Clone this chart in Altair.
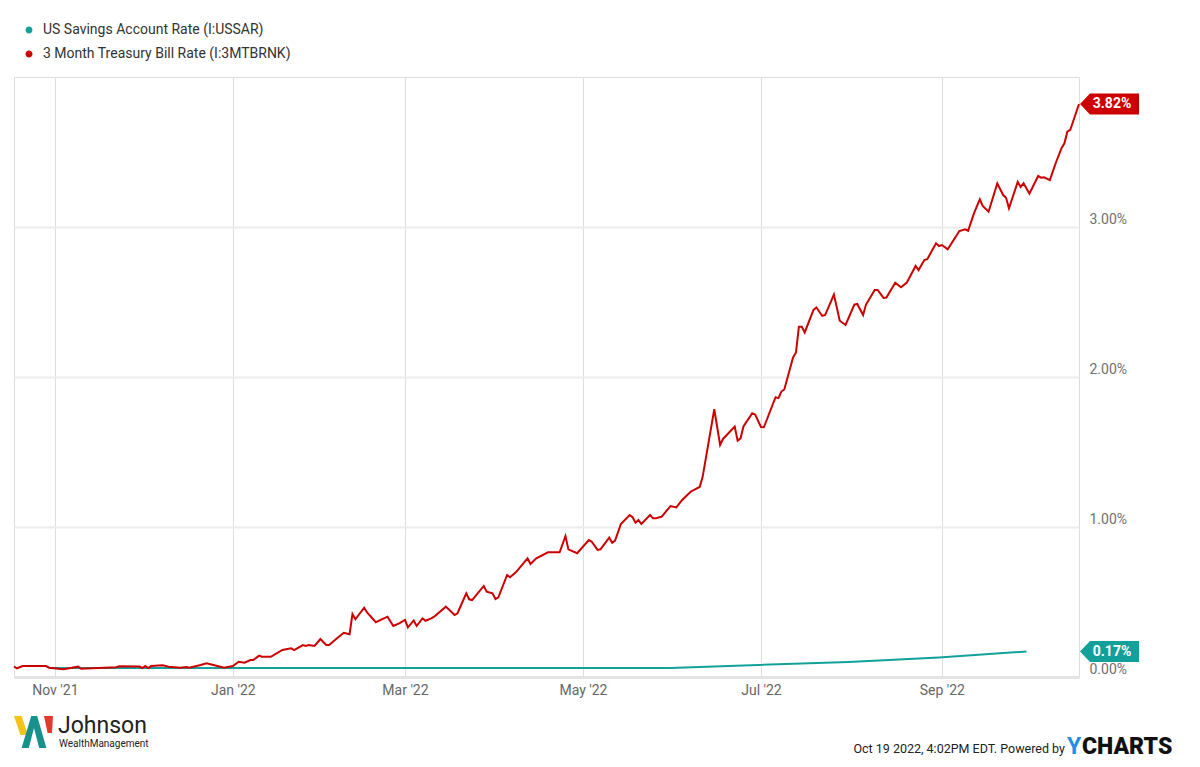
import altair as alt
import pandas as pd

# ---------------- data ----------------
series_names = ["US Savings Account Rate (I:USSAR)", "3 Month Treasury Bill Rate (I:3MTBRNK)"]
series_colors = ["#13a09a", "#cc0000"]

savings_dates = ["2021-10-31", "2021-11-30", "2021-12-31", "2022-01-31", "2022-02-28",
                 "2022-03-31", "2022-04-30", "2022-05-31", "2022-06-30", "2022-07-31",
                 "2022-08-31", "2022-09-30"]
savings_values = [0.06, 0.06, 0.06, 0.06, 0.06, 0.06, 0.06, 0.06, 0.08, 0.10, 0.13, 0.17]

tbill_dates = [
    "2021-10-18", "2021-10-19", "2021-10-21", "2021-10-29", "2021-10-30", "2021-11-04",
    "2021-11-09", "2021-11-10", "2021-11-22", "2021-11-23", "2021-11-30", "2021-12-01",
    "2021-12-02", "2021-12-03", "2021-12-04", "2021-12-08", "2021-12-10", "2021-12-14",
    "2021-12-16", "2021-12-17", "2021-12-21", "2021-12-23", "2021-12-25", "2021-12-29",
    "2022-01-01", "2022-01-03", "2022-01-05", "2022-01-07", "2022-01-08", "2022-01-10",
    "2022-01-11", "2022-01-14", "2022-01-18", "2022-01-21", "2022-01-22", "2022-01-25",
    "2022-01-26", "2022-01-27", "2022-01-29", "2022-01-31", "2022-02-02", "2022-02-03",
    "2022-02-05", "2022-02-08", "2022-02-10", "2022-02-11", "2022-02-12", "2022-02-15",
    "2022-02-16", "2022-02-19", "2022-02-23", "2022-02-25", "2022-02-27", "2022-03-01",
    "2022-03-02", "2022-03-04", "2022-03-05", "2022-03-07", "2022-03-08", "2022-03-10",
    "2022-03-11", "2022-03-15", "2022-03-18", "2022-03-19", "2022-03-22", "2022-03-23",
    "2022-03-24", "2022-03-28", "2022-03-29", "2022-03-31", "2022-04-01", "2022-04-02",
    "2022-04-05", "2022-04-06", "2022-04-08", "2022-04-12", "2022-04-13", "2022-04-15",
    "2022-04-19", "2022-04-23", "2022-04-25", "2022-04-26", "2022-04-29", "2022-05-03",
    "2022-05-04", "2022-05-06", "2022-05-07", "2022-05-10", "2022-05-11", "2022-05-12",
    "2022-05-14", "2022-05-17", "2022-05-18", "2022-05-19", "2022-05-20", "2022-05-21",
    "2022-05-24", "2022-05-25", "2022-05-26", "2022-05-28", "2022-05-31", "2022-06-02",
    "2022-06-04", "2022-06-07", "2022-06-10", "2022-06-11", "2022-06-15", "2022-06-17",
    "2022-06-18", "2022-06-22", "2022-06-23", "2022-06-24", "2022-06-25", "2022-06-28",
    "2022-06-29", "2022-07-01", "2022-07-02", "2022-07-06", "2022-07-07", "2022-07-08",
    "2022-07-09", "2022-07-12", "2022-07-13", "2022-07-14", "2022-07-15", "2022-07-16",
    "2022-07-19", "2022-07-20", "2022-07-22", "2022-07-23", "2022-07-26", "2022-07-28",
    "2022-07-30", "2022-08-02", "2022-08-03", "2022-08-05", "2022-08-06", "2022-08-09",
    "2022-08-10", "2022-08-12", "2022-08-13", "2022-08-16", "2022-08-18", "2022-08-20",
    "2022-08-23", "2022-08-24", "2022-08-26", "2022-08-27", "2022-08-30", "2022-08-31",
    "2022-09-01", "2022-09-03", "2022-09-07", "2022-09-09", "2022-09-10", "2022-09-12",
    "2022-09-14", "2022-09-15", "2022-09-17", "2022-09-20", "2022-09-22", "2022-09-23",
    "2022-09-24", "2022-09-27", "2022-09-28", "2022-09-29", "2022-10-01", "2022-10-04",
    "2022-10-05", "2022-10-06", "2022-10-08", "2022-10-10", "2022-10-12", "2022-10-13",
    "2022-10-14", "2022-10-15", "2022-10-18",
]
tbill_values = [
    0.070, 0.058, 0.073, 0.073, 0.062, 0.051,
    0.069, 0.055, 0.065, 0.071, 0.070, 0.060,
    0.073, 0.060, 0.073, 0.078, 0.069, 0.062,
    0.067, 0.062, 0.080, 0.091, 0.082, 0.062,
    0.073, 0.102, 0.095, 0.113, 0.113, 0.142,
    0.135, 0.135, 0.180, 0.191, 0.180, 0.213,
    0.207, 0.213, 0.207, 0.253, 0.213, 0.213,
    0.247, 0.295, 0.285, 0.420, 0.385, 0.462,
    0.430, 0.365, 0.402, 0.340, 0.358, 0.380,
    0.331, 0.377, 0.340, 0.391, 0.375, 0.391,
    0.402, 0.469, 0.413, 0.425, 0.558, 0.518,
    0.513, 0.607, 0.569, 0.558, 0.520, 0.531,
    0.680, 0.665, 0.698, 0.791, 0.753, 0.791,
    0.831, 0.831, 0.940, 0.851, 0.825, 0.913,
    0.902, 0.847, 0.851, 0.929, 0.895, 0.909,
    1.020, 1.080, 1.065, 1.029, 1.047, 1.020,
    1.080, 1.058, 1.058, 1.069, 1.140, 1.131,
    1.180, 1.237, 1.267, 1.333, 1.785, 1.547,
    1.587, 1.669, 1.575, 1.591, 1.670, 1.758,
    1.750, 1.667, 1.665, 1.865, 1.859, 1.903,
    1.917, 2.130, 2.163, 2.335, 2.335, 2.297,
    2.447, 2.463, 2.407, 2.413, 2.550, 2.375,
    2.347, 2.483, 2.487, 2.413, 2.483, 2.580,
    2.580, 2.527, 2.530, 2.629, 2.598, 2.630,
    2.740, 2.713, 2.780, 2.785, 2.891, 2.873,
    2.880, 2.851, 2.973, 2.985, 2.975, 3.091,
    3.185, 3.140, 3.102, 3.291, 3.213, 3.195,
    3.125, 3.300, 3.267, 3.291, 3.222, 3.340,
    3.329, 3.331, 3.313, 3.425, 3.525, 3.558,
    3.635, 3.647, 3.820,
]

x_domain = ["2021-10-18", "2022-10-18"]
y_domain = [0, 4]
y_ticks = [0, 1, 2, 3]

footer_stamp = ["Oct 19 2022, 4:02PM EDT.  Powered by"]
brand_y = ["Y"]
brand_rest = ["CHARTS"]
logo_name = ["Johnson"]
logo_sub = ["WealthManagement"]

# ---------------- tables ----------------
sav = pd.DataFrame({"date": pd.to_datetime(savings_dates), "value": savings_values,
                    "series": series_names[0]})
tb = pd.DataFrame({"date": pd.to_datetime(tbill_dates), "value": tbill_values,
                   "series": series_names[1]})
edge = pd.to_datetime(x_domain[1])
tag_sav = pd.DataFrame({"date": [edge], "value": [savings_values[-1]]})
tag_tb = pd.DataFrame({"date": [edge], "value": [tbill_values[-1]]})

FONT = "Roboto"

x_enc = alt.X(
    "date:T",
    scale=alt.Scale(domain=x_domain),
    axis=alt.Axis(
        title=None, format="%b '%y", tickCount={"interval": "month", "step": 2},
        grid=True, gridColor="#dedede", gridWidth=1, ticks=False,
        domain=True, domainColor="#e4e4e4", domainWidth=3,
        labelFont=FONT, labelFontSize=14, labelColor="#666666", labelPadding=6,
    ),
)
y_enc = alt.Y(
    "value:Q",
    scale=alt.Scale(domain=y_domain, nice=False),
    axis=alt.Axis(
        title=None, orient="right", values=y_ticks,
        labelExpr="format(datum.value, '.2f') + '%'",
        grid=True, gridColor="#ededed", gridWidth=2, ticks=False, domain=False,
        labelFont=FONT, labelFontSize=14, labelColor="#707070", labelPadding=10,
        labelBaseline="bottom", labelAlign="left", labelOffset=-1,
    ),
)
color_enc = alt.Color(
    "series:N",
    scale=alt.Scale(domain=series_names, range=series_colors),
    legend=alt.Legend(
        title=None, orient="none", legendX=8, legendY=-54, direction="vertical",
        symbolType="circle", symbolSize=12, symbolStrokeWidth=3.5,
        labelFont=FONT, labelFontSize=14, labelColor="#333333", labelOffset=7,
        labelLimit=0, rowPadding=6, padding=0,
    ),
)

sav_line = alt.Chart(sav).mark_line(strokeWidth=2).encode(x=x_enc, y=y_enc, color=color_enc)
tb_line = alt.Chart(tb).mark_line(strokeWidth=2).encode(x=x_enc, y=y_enc, color=color_enc)

TAG = "M-1,0L-0.66,-0.36L1,-0.36L1,0.36L-0.66,0.36Z"


def tag_layers(df, col):
    shape = alt.Chart(df).mark_point(
        shape=TAG, filled=True, size=3481, xOffset=30.5, opacity=1,
        color=col, strokeWidth=0, clip=False,
    ).encode(x="date:T", y="value:Q")
    label = alt.Chart(df).transform_calculate(
        label="format(datum.value, '.2f') + '%'"
    ).mark_text(
        color="white", font=FONT, fontSize=14, fontWeight="bold",
        align="center", baseline="middle", xOffset=33, clip=False,
    ).encode(x="date:T", y="value:Q", text="label:N")
    return [shape, label]


def text_layer(vals, px, py, **kw):
    return alt.Chart(pd.DataFrame({"t": vals})).mark_text(**kw).encode(
        x=alt.value(px), y=alt.value(py), text="t:N")


footer = [
    text_layer(footer_stamp, 1051, 672, font=FONT, fontSize=12.5, color="#222222",
               align="right", baseline="middle"),
    text_layer(brand_y, 1053, 670, font=FONT, fontSize=23, fontWeight="bold",
               color="#1e90e6", align="left", baseline="middle"),
    text_layer(brand_rest, 1068, 670, font=FONT, fontSize=23, fontWeight=900,
               color="#111111", align="left", baseline="middle"),
    text_layer(logo_name, 44, 649, font=FONT, fontSize=23, color="#222222",
               align="left", baseline="middle"),
    text_layer(logo_sub, 45, 667, font=FONT, fontSize=10, color="#222222",
               align="left", baseline="middle"),
]

logo_parts = [
    ("M-1,-0.8L-0.62,-0.8L-0.3,0.15L-0.68,0.15Z", "#f2c318"),
    ("M-0.62,0.8L-0.14,-0.8L0.16,-0.8L0.62,0.8L0.26,0.8L0,-0.2L-0.26,0.8Z", "#17918b"),
    ("M0.5,-0.8L0.95,-0.8L0.9,0.05L0.68,0.05Z", "#e23b2e"),
]
logo = [
    alt.Chart(pd.DataFrame({"k": [0]})).mark_point(
        shape=p, filled=True, size=1600, color=c, opacity=1, strokeWidth=0
    ).encode(x=alt.value(20), y=alt.value(655))
    for p, c in logo_parts
]

chart = alt.layer(
    sav_line, tb_line, *tag_layers(tag_tb, series_colors[1]),
    *tag_layers(tag_sav, series_colors[0]), *footer, *logo,
).properties(
    width=1065, height=600,
    autosize=alt.AutoSizeParams(type="none"),
    padding={"left": 6, "top": 69, "right": 112, "bottom": 82},
).configure_view(
    stroke="#cfcfcf", strokeWidth=1
).configure(background="white")

chart.save("out.html", embed_options={"renderer": "svg", "actions": False})
